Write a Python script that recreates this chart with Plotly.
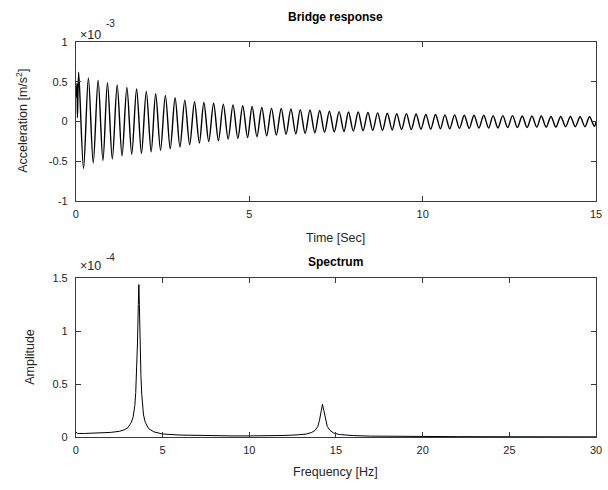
import plotly.graph_objects as go

# ---------------- data ----------------
# Bridge response: time [s] of each local extremum, and acceleration [x1e-3 m/s^2]
time_s = [0.0, 0.03, 0.045, 0.08, 0.22, 0.36, 0.50, 0.64, 0.78, 0.91, 1.05, 1.19, 1.33,
          1.47, 1.61, 1.75, 1.89, 2.03, 2.17, 2.30, 2.44, 2.58, 2.72, 2.86, 3.00,
          3.14, 3.28, 3.42, 3.56, 3.69, 3.83, 3.97, 4.11, 4.25, 4.39, 4.53, 4.67,
          4.81, 4.95, 5.08, 5.22, 5.36, 5.50, 5.64, 5.78, 5.92, 6.06, 6.20, 6.34,
          6.47, 6.61, 6.75, 6.89, 7.03, 7.17, 7.31, 7.45, 7.59, 7.73, 7.86, 8.00,
          8.14, 8.28, 8.42, 8.56, 8.70, 8.84, 8.98, 9.12, 9.25, 9.39, 9.53, 9.67,
          9.81, 9.95, 10.09, 10.23, 10.37, 10.51, 10.64, 10.78, 10.92, 11.06, 11.20,
          11.34, 11.48, 11.62, 11.76, 11.90, 12.03, 12.17, 12.31, 12.45, 12.59,
          12.73, 12.87, 13.01, 13.15, 13.29, 13.42, 13.56, 13.70, 13.84, 13.98,
          14.12, 14.26, 14.40, 14.54, 14.68, 14.81, 14.95, 15.0]
accel_e3 = [0.30, 0.48, 0.05, 0.62, -0.59, 0.55, -0.52, 0.52, -0.49, 0.49, -0.47, 0.46, -0.43,
            0.43, -0.41, 0.41, -0.40, 0.38, -0.38, 0.35, -0.36, 0.33, -0.34, 0.30, -0.32,
            0.27, -0.29, 0.25, -0.27, 0.24, -0.25, 0.23, -0.24, 0.22, -0.22, 0.21, -0.21,
            0.20, -0.20, 0.19, -0.19, 0.18, -0.18, 0.17, -0.17, 0.165, -0.16, 0.16, -0.155,
            0.15, -0.15, 0.145, -0.14, 0.14, -0.135, 0.13, -0.13, 0.125, -0.125, 0.12, -0.12,
            0.12, -0.115, 0.115, -0.11, 0.11, -0.11, 0.105, -0.105, 0.10, -0.10, 0.10, -0.10,
            0.095, -0.095, 0.09, -0.095, 0.09, -0.09, 0.085, -0.09, 0.085, -0.085, 0.08,
            -0.085, 0.08, -0.08, 0.08, -0.08, 0.075, -0.08, 0.075, -0.075, 0.075,
            -0.075, 0.07, -0.075, 0.07, -0.07, 0.07, -0.07, 0.065, -0.07, 0.065,
            -0.065, 0.065, -0.065, 0.06, -0.065, 0.06, -0.06, 0.0]

# Spectrum: frequency [Hz] and amplitude [x1e-4]
freq_hz = [0.0, 0.1, 0.5, 1.0, 1.5, 2.0, 2.5, 2.8, 3.0, 3.2, 3.3, 3.4, 3.45, 3.5, 3.55,
           3.6, 3.63, 3.66, 3.7, 3.75, 3.8, 3.85, 3.9, 4.0, 4.2, 4.5, 5.0, 6.0, 7.0,
           8.0, 9.0, 10.0, 11.0, 12.0, 12.8, 13.3, 13.6, 13.8, 13.95, 14.05, 14.15,
           14.22, 14.3, 14.4, 14.5, 14.65, 14.85, 15.2, 16.0, 17.0, 18.0, 20.0, 22.0,
           25.0, 28.0, 30.0]
amp_e4 = [0.05, 0.035, 0.035, 0.036, 0.04, 0.045, 0.055, 0.07, 0.09, 0.14, 0.19, 0.30,
          0.42, 0.60, 0.88, 1.25, 1.44, 1.25, 0.88, 0.58, 0.40, 0.29, 0.21, 0.14, 0.08,
          0.05, 0.03, 0.02, 0.015, 0.013, 0.012, 0.012, 0.013, 0.016, 0.022, 0.03,
          0.045, 0.065, 0.10, 0.16, 0.25, 0.31, 0.25, 0.16, 0.10, 0.065, 0.04, 0.025,
          0.015, 0.01, 0.008, 0.006, 0.005, 0.004, 0.003, 0.003]

top_xticks = [0, 5, 10, 15]
top_yticks = [-1, -0.5, 0, 0.5, 1]
bot_xticks = [0, 5, 10, 15, 20, 25, 30]
bot_yticks = [0, 0.5, 1, 1.5]

# ---------------- figure ----------------
W, H = 608, 490
FONT = "Liberation Sans, Arial, Helvetica, sans-serif"
AX = "#3a3a3a"
TXT = "#262626"


def px(x):
    return x / W


def py(y):
    return 1 - y / H


fig = go.Figure()
fig.add_trace(go.Scatter(x=time_s, y=accel_e3, mode="lines",
                         line=dict(color="black", width=1.4, shape="spline", smoothing=0.9),
                         xaxis="x", yaxis="y", showlegend=False))
fig.add_trace(go.Scatter(x=freq_hz, y=amp_e4, mode="lines",
                         line=dict(color="black", width=1),
                         xaxis="x2", yaxis="y2", showlegend=False))

axis_common = dict(showline=True, linecolor=AX, linewidth=1, mirror="ticks",
                   ticks="inside", ticklen=5, tickcolor=AX, tickwidth=1,
                   showgrid=False, zeroline=False, ticklabeloverflow="allow",
                   tickfont=dict(family=FONT, size=11, color=TXT))

xdom = [px(74), px(602)]
fig.update_layout(
    width=W, height=H,
    margin=dict(l=0, r=0, t=0, b=0),
    paper_bgcolor="white", plot_bgcolor="white",
    xaxis=dict(domain=xdom, range=[0, 15], tickvals=top_xticks,
               ticktext=[str(v) for v in top_xticks], anchor="y",
               ticklabelstandoff=3, **axis_common),
    yaxis=dict(domain=[py(200), py(37)], range=[-1, 1], tickvals=top_yticks,
               ticktext=["-1", "-0.5", "0", "0.5", "1"], anchor="x",
               ticklabelstandoff=5, **axis_common),
    xaxis2=dict(domain=xdom, range=[0, 30], tickvals=bot_xticks,
                ticktext=[str(v) for v in bot_xticks], anchor="y2",
                ticklabelstandoff=3, **axis_common),
    yaxis2=dict(domain=[py(442), py(279)], range=[0, 1.5], tickvals=bot_yticks,
                ticktext=["0", "0.5", "1", "1.5"], anchor="x2",
                ticklabelstandoff=5, **axis_common),
)

ann = []


def add_text(text, x, y, size=13, bold=False, angle=0, xanchor="center", yanchor="middle"):
    ann.append(dict(text=f"<b>{text}</b>" if bold else text, x=px(x), y=py(y),
                    xref="paper", yref="paper", showarrow=False, textangle=angle,
                    xanchor=xanchor, yanchor=yanchor,
                    font=dict(family=FONT, size=size, color=TXT if not bold else "black")))


xc = (74 + 602) / 2
add_text("Bridge response", xc, 11, size=12, bold=True)
add_text("Time [Sec]", xc, 238, size=12.5)
add_text("Acceleration [m/s<sup>2</sup>]", 19, 118, size=12.5, angle=-90)
add_text("×10", 76, 30, size=12.5, xanchor="left")
add_text("-3", 103, 18, size=10, xanchor="left")

add_text("Spectrum", xc, 262, size=12, bold=True)
add_text("Frequency [Hz]", xc, 478, size=12.5)
add_text("Amplitude", 28, 360, size=12.5, angle=-90)
add_text("×10", 76, 267, size=12.5, xanchor="left")
add_text("-4", 103, 258, size=10, xanchor="left")

fig.update_layout(annotations=ann)
fig.write_html("out.html")
